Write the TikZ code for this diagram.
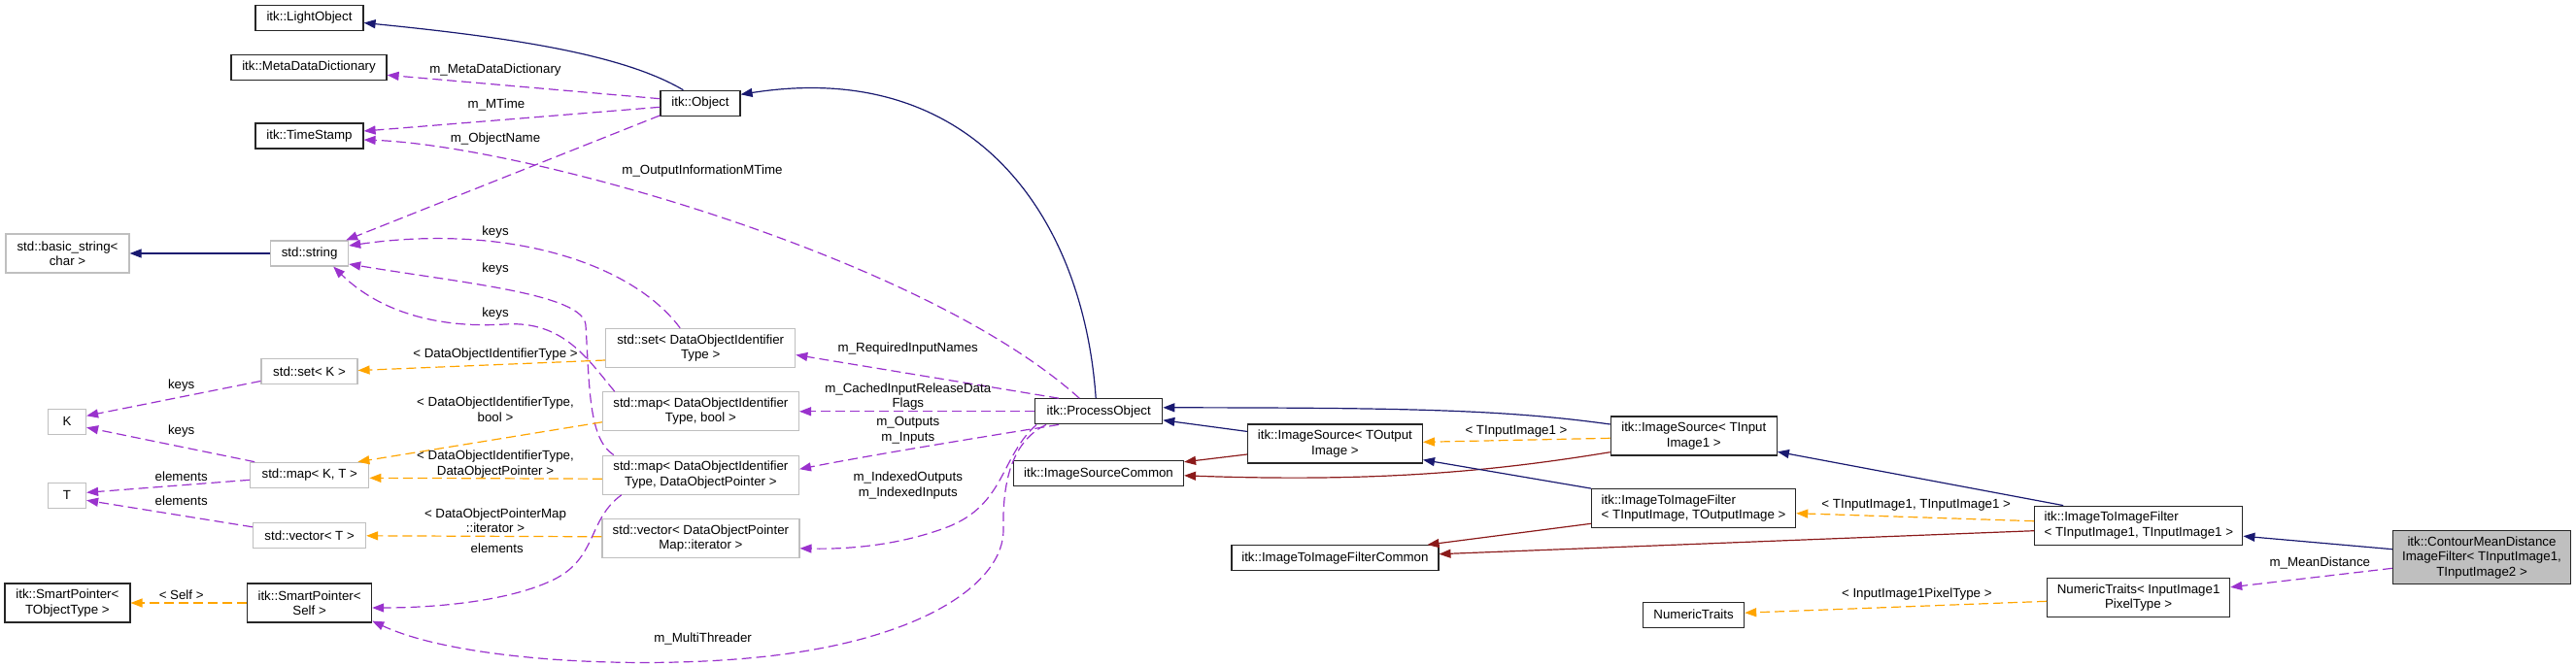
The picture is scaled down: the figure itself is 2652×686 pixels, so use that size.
\documentclass[tikz,border=0pt]{standalone}
\usepackage{fontspec}
\setmainfont{Liberation Sans}
\usetikzlibrary{arrows.meta,calc}
\definecolor{navy}{HTML}{191970}
\definecolor{fbred}{HTML}{8B1A1A}
\definecolor{orchid}{HTML}{9A32CD}
\definecolor{dorange}{HTML}{FFA500}
\definecolor{grey75}{HTML}{BFBFBF}
\tikzset{
  txt/.style={font=\fontsize{6.65}{7.65}\selectfont},
  cls/.style={txt, draw=black!85, line width=0.6pt, rectangle, inner sep=0pt, align=center, fill=white},
  ucls/.style={cls, draw=grey75},
  mainc/.style={cls, fill=grey75},
  sz/.style 2 args={minimum width={#1*0.5pt}, minimum height={#2*0.5pt}},
  lbl/.style={txt, align=center, inner sep=0pt},
  tip/.style={-{Triangle[length=6pt,width=4.5pt]}},
  inh/.style={draw=navy, line width=0.6pt, tip},
  priv/.style={draw=fbred, line width=0.6pt, tip},
  use/.style={draw=orchid, line width=0.6pt, dash pattern=on 5pt off 2.5pt, tip},
  tmpl/.style={draw=dorange, line width=0.6pt, dash pattern=on 5pt off 2.5pt, tip},
}
\begin{document}
\begin{tikzpicture}[x=0.5pt,y=-0.5pt]
\useasboundingbox (0,0) rectangle (2652,686);
% ---------- nodes ----------
\node[cls, sz={111}{26}] (lo) at (318.5,18.5) {itk::LightObject};
\node[cls, sz={160}{26}] (mdd) at (318,69.3) {itk::MetaDataDictionary};
\node[cls, sz={111}{26}] (ts) at (318.5,140) {itk::TimeStamp};
\node[cls, sz={82}{26}] (obj) at (721,106.3) {itk::Object};
\node[ucls, sz={127}{40}] (bstr) at (69.5,261) {std::basic\_string<\\char >};
\node[ucls, sz={80}{26}] (str) at (318.6,261) {std::string};
\node[ucls, sz={99}{26}] (setk) at (318.5,382.5) {std::set< K >};
\node[ucls, sz={39}{26}] (K) at (69,434.3) {K};
\node[ucls, sz={122}{26}] (mapkt) at (318.8,489.3) {std::map< K, T >};
\node[ucls, sz={39}{26}] (T) at (69,510.3) {T};
\node[ucls, sz={116}{26}] (vect) at (318.6,551.8) {std::vector< T >};
\node[cls, sz={129}{40}] (spt) at (69.4,621) {itk::SmartPointer<\\TObjectType >};
\node[cls, sz={128}{40}] (sps) at (318.6,621) {itk::SmartPointer<\\Self >};
\node[ucls, sz={195}{40}] (setdoi) at (721.2,358.5) {std::set< DataObjectIdentifier\\Type >};
\node[ucls, sz={202}{40}] (mapbool) at (721.4,423.8) {std::map< DataObjectIdentifier\\Type, bool >};
\node[ucls, sz={202}{40}] (mapdop) at (721.4,489.2) {std::map< DataObjectIdentifier\\Type, DataObjectPointer >};
\node[ucls, sz={203}{40}] (vecdop) at (721.4,554.8) {std::vector< DataObjectPointer\\Map::iterator >};
\node[cls, sz={131}{26}] (po) at (1131.2,423.8) {itk::ProcessObject};
\node[cls, sz={175}{26}] (isc) at (1131,487.8) {itk::ImageSourceCommon};
\node[cls, sz={180}{40}] (iso) at (1374.4,457) {itk::ImageSource< TOutput\\Image >};
\node[cls, sz={171}{40}] (isi) at (1743.8,449) {itk::ImageSource< TInput\\Image1 >};
\node[cls, sz={210}{40}, align=left] (itif) at (1743.6,523.7) {itk::ImageToImageFilter\\< TInputImage, TOutputImage >};
\node[cls, sz={213}{26}] (itifc) at (1374.4,574.7) {itk::ImageToImageFilterCommon};
\node[cls, sz={104}{26}] (nt) at (1743.6,633.2) {NumericTraits};
\node[cls, sz={214}{40}, align=left] (itif1) at (2201.8,541.2) {itk::ImageToImageFilter\\< TInputImage1, TInputImage1 >};
\node[cls, sz={188}{40}] (ntp) at (2201.6,615.8) {NumericTraits< InputImage1\\PixelType >};
\node[mainc, sz={183}{55}] (cmd) at (2555,574.3) {itk::ContourMeanDistance\\ImageFilter< TInputImage1,\\TInputImage2 >};
% ---------- edges: upper left ----------
\draw[inh] ($(obj.north west)+(24,0)$) .. controls (640,55) and (520,38) .. ($(lo.east)+(0,5)$);
\draw[use] ($(obj.west)+(0,-4.6)$) -- ($(mdd.east)+(0,8)$);
\draw[use] ($(obj.west)+(0,4)$) -- ($(ts.east)+(0,-5)$);
\draw[use] ($(obj.south west)+(0,-1)$) -- ($(str.north east)+(-3,0)$);
\draw[use] ($(po.north)+(-20,0)$) .. controls (950,265) and (540,150) .. ($(ts.east)+(0,4)$);
\draw[inh] ($(po.north)+(-3,0)$) .. controls (1115,220) and (1000,60) .. ($(obj.east)+(0,-9)$);
\draw[inh] (str.west) -- (bstr.east);
% keys to std::string
\draw[use] ($(setdoi.north)+(-21,0)$) .. controls (650,270) and (520,230) .. ($(str.east)+(0,-8)$);
\draw[use] ($(mapdop.north west)+(12,0)$) .. controls (606,452) and (607,400) .. (603,335) .. controls (601,303) and (480,292) .. ($(str.east)+(0,11)$);
\draw[use] ($(mapbool.north west)+(13,0)$) .. controls (605,370) and (580,330) .. (520,334) .. controls (470,337.3) and (400,330) .. ($(str.south east)+(-16,0)$);
% template instantiations
\draw[tmpl] ($(setdoi.west)+(0,12.5)$) -- ($(setk.east)+(0,-1)$);
\draw[tmpl] ($(mapbool.west)+(0,11)$) -- ($(mapkt.north east)+(-12,0)$);
\draw[tmpl] ($(mapdop.west)+(0,4)$) -- ($(mapkt.east)+(0,3)$);
\draw[tmpl] ($(vecdop.west)+(0,-2)$) -- (vect.east);
\draw[tmpl] (sps.west) -- (spt.east);
% K, T
\draw[use] ($(setk.west)+(0,10)$) -- ($(K.east)+(0,-6)$);
\draw[use] ($(mapkt.north west)+(5,0)$) -- ($(K.east)+(0,6)$);
\draw[use] ($(mapkt.west)+(0,5)$) -- ($(T.east)+(0,-3)$);
\draw[use] ($(vect.west)+(0,-9)$) -- ($(T.east)+(0,5)$);
% to SmartPointer<Self>
\draw[use] ($(mapdop.south west)+(20,0)$) .. controls (605,535) and (615,575) .. (570,597) .. controls (525,619) and (450,626) .. ($(sps.east)+(0,5)$);
\draw[use] ($(po.south west)+(12,0)$) .. controls (1040,455) and (1032,500) .. (1033,545) .. controls (1034,600) and (950,660) .. (780,677) .. controls (650,690) and (470,680) .. ($(sps.south east)+(0,-2)$);
% ProcessObject members
\draw[use] ($(po.south west)+(2,0)$) .. controls (1030,470) and (1035,520) .. (975,543) .. controls (930,560) and (880,566) .. ($(vecdop.east)+(0,10)$);
\draw[use] ($(po.north west)+(25,0)$) -- ($(setdoi.east)+(0,7)$);
\draw[use] (po.west) -- (mapbool.east);
\draw[use] ($(po.south west)+(25,0)$) .. controls (1030,447) and (900,468) .. ($(mapdop.east)+(0,-6)$);
% ---------- edges: right part ----------
\draw[inh] ($(iso.north west)+(0,8)$) -- ($(po.east)+(0,9)$);
\draw[inh] ($(isi.west)+(0,-12)$) .. controls (1550,422) and (1450,420) .. ($(po.east)+(0,-4)$);
\draw[priv] ($(iso.west)+(0,11)$) -- ($(isc.east)+(0,-12)$);
\draw[priv] ($(isi.west)+(0,16.7)$) .. controls (1540,485) and (1420,497) .. ($(isc.east)+(0,2)$);
\draw[tmpl] ($(isi.west)+(0,2.3)$) -- ($(iso.east)+(0,-1.7)$);
\draw[inh] (itif.north west) -- ($(iso.south east)+(0,-4)$);
\draw[priv] ($(itif.south west)+(0,-5)$) -- ($(itifc.north east)+(-12,0)$);
\draw[tmpl] ($(itif1.west)+(0,-4.5)$) -- ($(itif.east)+(0,5)$);
\draw[priv] ($(itif1.west)+(0,5.5)$) -- ($(itifc.east)+(0,-4)$);
\draw[inh] ($(itif1.north west)+(30,0)$) -- ($(isi.south east)+(0,-4.3)$);
\draw[inh] ($(cmd.west)+(0,-8.6)$) -- ($(itif1.east)+(0,11)$);
\draw[use] ($(cmd.west)+(0,11)$) -- ($(ntp.east)+(0,-11)$);
\draw[tmpl] ($(ntp.west)+(0,3.5)$) -- ($(nt.east)+(0,-2)$);
% ---------- labels ----------
\node[lbl] (l1) at (510,71.7) {m\_MetaDataDictionary};
\node[lbl] (l2) at (511,108) {m\_MTime};
\node[lbl] (l3) at (510,142.7) {m\_ObjectName};
\node[lbl] (l4) at (723,176) {m\_OutputInformationMTime};
\node[lbl] (l5) at (510,239) {keys};
\node[lbl] (l6) at (510,277) {keys};
\node[lbl] (l7) at (510,323) {keys};
\node[lbl] (l8) at (510,365) {< DataObjectIdentifierType >};
\node[lbl] (l9) at (510,421.7) {< DataObjectIdentifierType,\\bool >};
\node[lbl] (l10) at (510,478) {< DataObjectIdentifierType,\\DataObjectPointer >};
\node[lbl] (l11) at (510,536) {< DataObjectPointerMap\\::iterator >};
\node[lbl] (l12) at (511.7,564.3) {elements};
\node[lbl] (l13) at (186.7,396.7) {keys};
\node[lbl] (l14) at (186.7,444.3) {keys};
\node[lbl] (l15) at (186.7,490.7) {elements};
\node[lbl] (l16) at (186.7,515.7) {elements};
\node[lbl] (l17) at (186.7,612.7) {< Self >};
\node[lbl] (l18) at (723.6,658.3) {m\_MultiThreader};
\node[lbl] (l19) at (934.8,358.7) {m\_RequiredInputNames};
\node[lbl] (l20) at (934.8,408.3) {m\_CachedInputReleaseData\\Flags};
\node[lbl] (l21) at (934.8,443.2) {m\_Outputs\\m\_Inputs};
\node[lbl] (l22) at (934.8,500.2) {m\_IndexedOutputs\\m\_IndexedInputs};
\node[lbl] (l23) at (1561,444.3) {< TInputImage1 >};
\node[lbl] (l24) at (1972.7,520) {< TInputImage1, TInputImage1 >};
\node[lbl] (l25) at (1973.3,611.7) {< InputImage1PixelType >};
\node[lbl] (l26) at (2388.3,580) {m\_MeanDistance};
\end{tikzpicture}
\end{document}
